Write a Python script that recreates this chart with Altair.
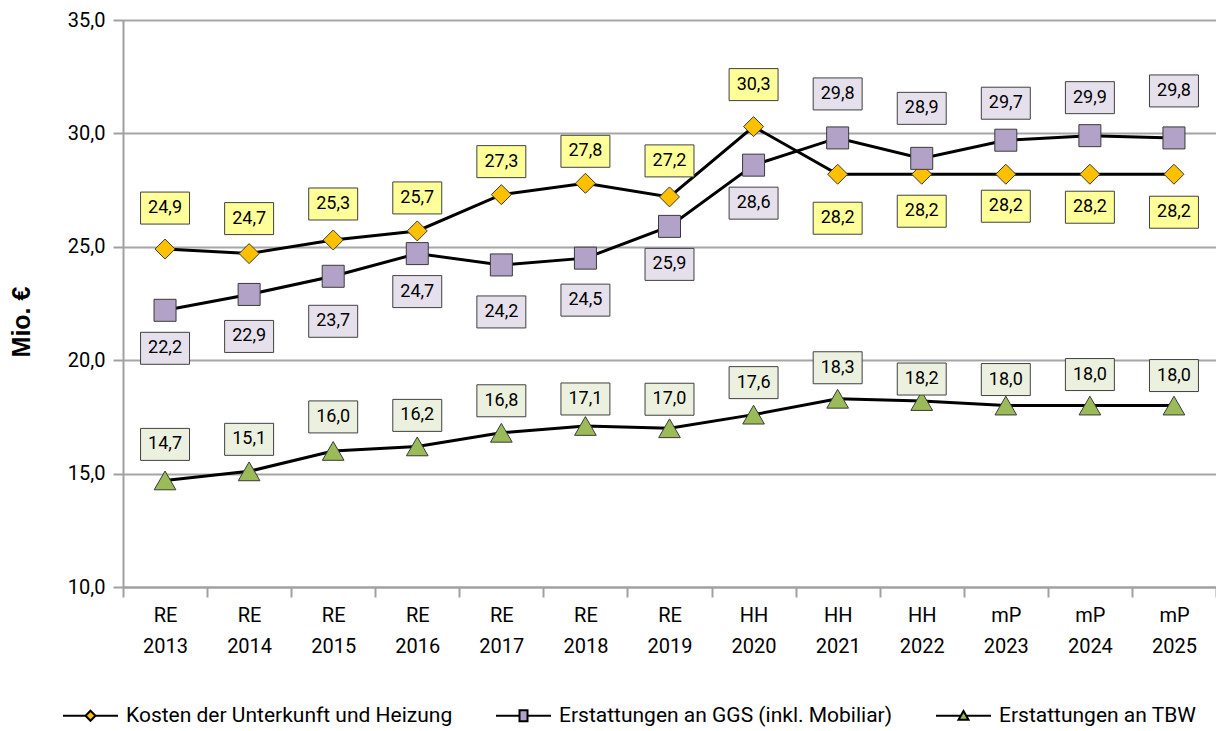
import altair as alt
import pandas as pd

categories = ["RE 2013", "RE 2014", "RE 2015", "RE 2016", "RE 2017", "RE 2018", "RE 2019",
              "HH 2020", "HH 2021", "HH 2022", "mP 2023", "mP 2024", "mP 2025"]
series_names = ["Kosten der Unterkunft und Heizung",
                "Erstattungen an GGS (inkl. Mobiliar)",
                "Erstattungen an TBW"]
kosten = [24.9, 24.7, 25.3, 25.7, 27.3, 27.8, 27.2, 30.3, 28.2, 28.2, 28.2, 28.2, 28.2]
ggs = [22.2, 22.9, 23.7, 24.7, 24.2, 24.5, 25.9, 28.6, 29.8, 28.9, 29.7, 29.9, 29.8]
tbw = [14.7, 15.1, 16.0, 16.2, 16.8, 17.1, 17.0, 17.6, 18.3, 18.2, 18.0, 18.0, 18.0]

# data-label offsets from their point, in pixels (negative = above)
kosten_dy = [-41, -35, -36, -33, -33, -32, -36, -42, 44, 37, 32, 33, 38]
ggs_dy = [38, 42, 45, 38, 47, 42, 38, 38, -44, -50, -37, -38, -47]
tbw_dy = [-36, -32, -34, -31, -32, -27, -29, -32, -31, -22, -26, -31, -30]

marker_colors = ["#FFC000", "#B3A2C7", "#9BBB59"]
marker_shapes = ["diamond", "square", "triangle-up"]
marker_sizes = [400, 484, 470]
box_colors = ["#FFFF99", "#E6E0EC", "#EBF1DE"]

W, H = 1093, 567
Y_MIN, Y_MAX = 10, 35

rows = []
for s, vals, dys in zip(series_names, [kosten, ggs, tbw], [kosten_dy, ggs_dy, tbw_dy]):
    for i, (c, v, d) in enumerate(zip(categories, vals, dys)):
        rows.append({"s": s, "cat": c, "i": i, "v": v, "dy": d})
df = pd.DataFrame(rows)

FONT = "Roboto"

x_enc = alt.X("cat:N", sort=categories,
              scale=alt.Scale(paddingInner=0, paddingOuter=0),
              axis=alt.Axis(title=None, labelAngle=0, labelExpr="split(datum.label, ' ')",
                            labelFont=FONT, labelFontSize=20, labelColor="black",
                            labelLineHeight=31, labelPadding=8, labelBaseline="top",
                            domainColor="#A0A0A0", domainWidth=2,
                            tickColor="#A0A0A0", tickWidth=2, tickSize=10,
                            tickBand="extent", grid=False))
y_scale = alt.Scale(domain=[Y_MIN, Y_MAX], nice=False, zero=False)
y_enc = alt.Y("v:Q", scale=y_scale,
              axis=alt.Axis(values=[10, 15, 20, 25, 30, 35],
                            labelExpr="replace(format(datum.value, '.1f'), '.', ',')",
                            labelFont=FONT, labelFontSize=20, labelColor="black", labelPadding=8,
                            domainColor="#A0A0A0", domainWidth=2,
                            tickColor="#A0A0A0", tickWidth=2, tickSize=10,
                            grid=True, gridColor="#A6A6A6", gridWidth=2,
                            title="Mio. €", titleFont="Liberation Sans", titleFontSize=25,
                            titleFontWeight="bold", titleColor="black", titleAngle=270,
                            titleX=-102, titleY=H / 2 + 18, titleAlign="center",
                            titleBaseline="middle"))

base = alt.Chart(df)
px_per_unit = H / (Y_MAX - Y_MIN)
lab = base.transform_calculate(
    ly=f"datum.v - datum.dy / {px_per_unit}",
    txt="replace(format(datum.v, '.1f'), '.', ',')",
)

lines = base.mark_line(color="black", strokeWidth=3).encode(
    x=x_enc, y=y_enc, detail="s:N", order="i:Q")

point_layers, box_layers = [], []
for name, shp, col, sz, bcol in zip(series_names, marker_shapes, marker_colors,
                                    marker_sizes, box_colors):
    point_layers.append(
        base.transform_filter(alt.datum.s == name).mark_point(
            shape=shp, size=sz, filled=True, fill=col, opacity=1,
            stroke="#3a3a3a", strokeWidth=1).encode(x=x_enc, y=y_enc)
    )
    box_layers.append(
        lab.transform_filter(alt.datum.s == name).mark_point(
            shape="M-1.53,-1H1.53V1H-1.53Z", size=1024, filled=True, fill=bcol, opacity=1,
            stroke="#404040", strokeWidth=1).encode(x=x_enc, y=alt.Y("ly:Q", scale=y_scale))
    )

texts = lab.mark_text(font=FONT, fontSize=18, color="black", align="center",
                      baseline="middle").encode(
    x=x_enc, y=alt.Y("ly:Q", scale=y_scale), text="txt:N")

legend_paths = [
    "M-5.5,0H-1M1,0H5.5M0,-1L1,0L0,1L-1,0Z",
    "M-5.5,0H-0.8M0.8,0H5.5M-0.8,-1.1H0.8V1.1H-0.8Z",
    "M-5.5,0H-0.55M0.55,0H5.5M0,-0.95L1,0.8H-1Z",
]
leg = alt.Legend(title=None, orient="none", legendX=-43, legendY=685, direction="horizontal",
                 columns=3, symbolSize=100, labelOffset=25, columnPadding=39,
                 labelFont=FONT, labelFontSize=21, labelColor="black", labelLimit=0,
                 symbolStrokeWidth=2, symbolOpacity=1)
legend_layer = base.mark_point(filled=False, opacity=1, strokeWidth=2).encode(
    x=alt.value(0), y=alt.value(-500),
    shape=alt.Shape("s:N", scale=alt.Scale(domain=series_names, range=legend_paths), legend=leg),
    fill=alt.Fill("s:N", scale=alt.Scale(domain=series_names, range=marker_colors), legend=leg),
    stroke=alt.Stroke("s:N", scale=alt.Scale(domain=series_names,
                                             range=["black", "black", "black"]), legend=leg),
)

chart = alt.layer(lines, *point_layers, *box_layers, texts, legend_layer).properties(
    width=W, height=H, autosize="none",
    padding={"left": 115, "top": 12, "right": 0, "bottom": 143},
).configure_view(stroke=None).configure(background="white")

chart.save("out.html", embed_options={"renderer": "svg", "actions": False})
